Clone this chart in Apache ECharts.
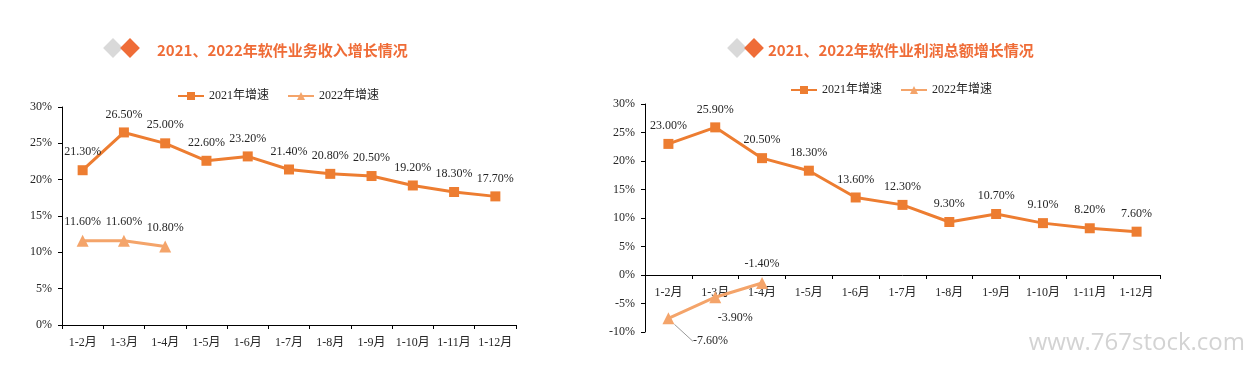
<!DOCTYPE html>
<html><head><meta charset="utf-8">
<script src="https://cdn.jsdelivr.net/npm/echarts@6/dist/echarts.min.js"></script>
<style>html,body{margin:0;padding:0;background:#fff}#c{width:1250px;height:366px}</style>
</head><body><div id="c"></div>
<script>
const categories = ['1-2月','1-3月','1-4月','1-5月','1-6月','1-7月','1-8月','1-9月','1-10月','1-11月','1-12月'];
const revenue2021 = [21.3, 26.5, 25.0, 22.6, 23.2, 21.4, 20.8, 20.5, 19.2, 18.3, 17.7];
const revenue2022 = [11.6, 11.6, 10.8];
const profit2021 = [23.0, 25.9, 20.5, 18.3, 13.6, 12.3, 9.3, 10.7, 9.1, 8.2, 7.6];
const profit2022 = [-7.6, -3.9, -1.4];
const seriesNames = ['2021年增速', '2022年增速'];
const titles = ['2021、2022年软件业务收入增长情况', '2021、2022年软件业利润总额增长情况'];

const C21 = '#ED7D31', C22 = '#F4A46A';
const SERIF = '"Liberation Serif","Times New Roman","Noto Sans CJK SC",serif';
const TXT = '#262626';
const chart = echarts.init(document.getElementById('c'));
const fmt = v => v.toFixed(2) + '%';

function lineSeries(name, data, color, symbol, xi, extra) {
  return Object.assign({
    name, type: 'line', xAxisIndex: xi, yAxisIndex: xi, data,
    symbol, symbolSize: symbol === 'rect' ? 10 : 12,
    lineStyle: { color, width: 3 }, itemStyle: { color },
    label: { show: true, position: 'top', distance: 7, color: TXT, fontFamily: SERIF, fontSize: 12,
      formatter: p => fmt(p.value) },
    z: 3
  }, extra || {});
}

function diamonds(cx, cy) {
  return [
    { type: 'rect', x: cx, y: cy, rotation: Math.PI / 4,
      shape: { x: -7, y: -7, width: 14, height: 14 }, style: { fill: '#D9D9D9' } },
    { type: 'rect', x: cx + 17, y: cy, rotation: Math.PI / 4,
      shape: { x: -7, y: -7, width: 14, height: 14 }, style: { fill: '#EF6C37' } }
  ];
}

const xAxisBase = {
  type: 'category', data: categories, boundaryGap: true,
  axisLine: { onZero: false, lineStyle: { color: '#000', width: 1 } },
  axisTick: { show: true, length: 4, lineStyle: { color: '#000' } },
  axisLabel: { color: TXT, fontFamily: SERIF, fontSize: 12, margin: 12, interval: 0 }
};
const yAxisBase = {
  type: 'value', interval: 5,
  axisLine: { show: true, lineStyle: { color: '#000' } },
  axisTick: { show: true, length: 4, lineStyle: { color: '#000' } },
  splitLine: { show: false },
  axisLabel: { color: TXT, fontFamily: SERIF, fontSize: 12, margin: 10, formatter: v => v + '%' }
};

const profit22Data = profit2022.map((v, i) => {
  if (i === 0) return { value: v, label: { position: 'bottom' },
    labelLine: { show: true, lineStyle: { color: '#999', width: 1 } } };
  if (i === 1) return { value: v, label: { position: 'bottom' } };
  return v;
});

const option = {
  animation: false,
  title: [
    { text: titles[0], left: 152, top: 38, textStyle: { color: '#EF6C37', fontSize: 15, fontWeight: 'bold', fontFamily: '"Noto Sans CJK SC",sans-serif' } },
    { text: titles[1], left: 763, top: 38, textStyle: { color: '#EF6C37', fontSize: 15, fontWeight: 'bold', fontFamily: '"Noto Sans CJK SC",sans-serif' } }
  ],
  legend: [
    { data: seriesNames, left: 172, top: 85, itemWidth: 26, itemHeight: 10, itemGap: 18,
      textStyle: { color: TXT, fontFamily: SERIF, fontSize: 12 }, selectedMode: false },
    { data: seriesNames, left: 785, top: 79, itemWidth: 26, itemHeight: 10, itemGap: 18,
      textStyle: { color: TXT, fontFamily: SERIF, fontSize: 12 }, selectedMode: false }
  ],
  grid: [
    { left: 62, top: 107, width: 454, height: 218 },
    { left: 645, top: 104, width: 515, height: 228 }
  ],
  xAxis: [
    Object.assign({ gridIndex: 0 }, xAxisBase),
    Object.assign({ gridIndex: 1, offset: -57 }, xAxisBase)
  ],
  yAxis: [
    Object.assign({ gridIndex: 0, min: 0, max: 30 }, yAxisBase),
    Object.assign({ gridIndex: 1, min: -10, max: 30 }, yAxisBase)
  ],
  series: [
    lineSeries(seriesNames[0], revenue2021, C21, 'rect', 0),
    lineSeries(seriesNames[1], revenue2022, C22, 'triangle', 0),
    lineSeries(seriesNames[0], profit2021, C21, 'rect', 1),
    lineSeries(seriesNames[1], profit22Data, C22, 'triangle', 1, {
      labelLayout: p => p.dataIndex === 0 ? { dx: 42, dy: 4 } : (p.dataIndex === 1 ? { dx: 20, dy: 2 } : {})
    })
  ],
  graphic: [].concat(diamonds(113, 48), diamonds(737, 48), [
    { type: 'text', right: 5, top: 331, style: { text: 'www.767stock.com', fill: '#D3D3D3',
      font: '24px "Open Sans", sans-serif' } }
  ])
};
chart.setOption(option);
</script></body></html>
